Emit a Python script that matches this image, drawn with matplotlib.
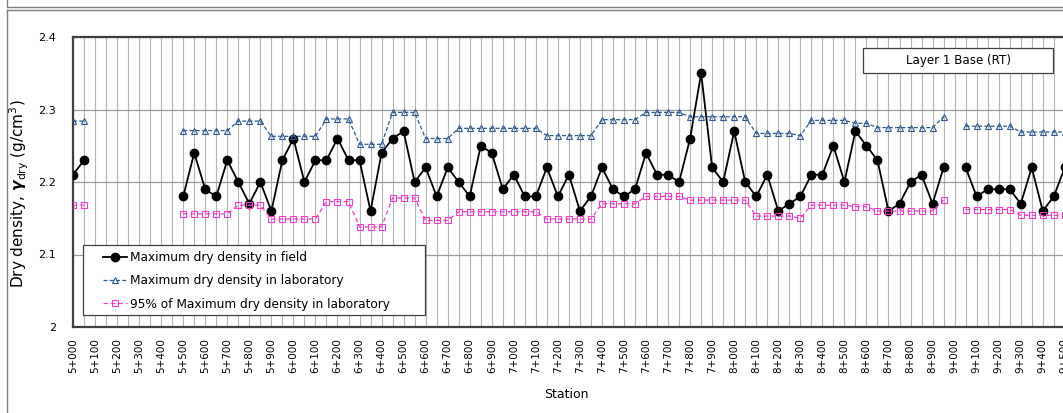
import numpy as np
import matplotlib
matplotlib.use("Agg")
import matplotlib.pyplot as plt
from matplotlib.lines import Line2D
from matplotlib.patches import Rectangle

nan = np.nan

# ---- categories (stations every 50 m) ----
station_m = list(range(5000, 9501, 50))
station_labels = ["%d+%03d" % (s // 1000, s % 1000) for s in station_m]
tick_labels = [lab if i % 2 == 0 else "" for i, lab in enumerate(station_labels)]

# ---- series values (g/cm3) ----
field = [2.21, 2.23, nan, nan, nan, nan, nan, nan, nan, nan,
         2.18, 2.24, 2.19, 2.18, 2.23, 2.20, 2.17, 2.20, 2.16, 2.23,
         2.26, 2.20, 2.23, 2.23, 2.26, 2.23, 2.23, 2.16, 2.24, 2.26,
         2.27, 2.20, 2.22, 2.18, 2.22, 2.20, 2.18, 2.25, 2.24, 2.19,
         2.21, 2.18, 2.18, 2.22, 2.18, 2.21, 2.16, 2.18, 2.22, 2.19,
         2.18, 2.19, 2.24, 2.21, 2.21, 2.20, 2.26, 2.35, 2.22, 2.20,
         2.27, 2.20, 2.18, 2.21, 2.16, 2.17, 2.18, 2.21, 2.21, 2.25,
         2.20, 2.27, 2.25, 2.23, 2.16, 2.17, 2.20, 2.21, 2.17, 2.22,
         nan, 2.22, 2.18, 2.19, 2.19, 2.19, 2.17, 2.22, 2.16, 2.18,
         2.22]

lab = [2.284, 2.284, nan, nan, nan, nan, nan, nan, nan, nan,
       2.271, 2.271, 2.271, 2.271, 2.271, 2.284, 2.284, 2.284, 2.263, 2.263,
       2.263, 2.263, 2.263, 2.287, 2.287, 2.287, 2.252, 2.252, 2.252, 2.296,
       2.296, 2.296, 2.260, 2.260, 2.260, 2.274, 2.274, 2.274, 2.274, 2.274,
       2.274, 2.274, 2.274, 2.264, 2.264, 2.264, 2.264, 2.264, 2.286, 2.286,
       2.286, 2.286, 2.296, 2.296, 2.296, 2.296, 2.290, 2.290, 2.290, 2.290,
       2.290, 2.290, 2.267, 2.267, 2.267, 2.267, 2.264, 2.285, 2.285, 2.285,
       2.285, 2.281, 2.281, 2.275, 2.275, 2.275, 2.275, 2.275, 2.275, 2.290,
       nan, 2.277, 2.277, 2.277, 2.277, 2.277, 2.269, 2.269, 2.269, 2.269,
       2.269]

lab95 = [2.168, 2.168, nan, nan, nan, nan, nan, nan, nan, nan,
         2.156, 2.156, 2.156, 2.156, 2.156, 2.168, 2.168, 2.168, 2.149, 2.149,
         2.149, 2.149, 2.149, 2.173, 2.173, 2.173, 2.138, 2.138, 2.138, 2.178,
         2.178, 2.178, 2.147, 2.147, 2.147, 2.159, 2.159, 2.159, 2.159, 2.159,
         2.159, 2.159, 2.159, 2.149, 2.149, 2.149, 2.149, 2.149, 2.170, 2.170,
         2.170, 2.170, 2.180, 2.180, 2.180, 2.180, 2.175, 2.175, 2.175, 2.175,
         2.175, 2.175, 2.153, 2.153, 2.153, 2.153, 2.150, 2.168, 2.168, 2.168,
         2.168, 2.166, 2.166, 2.160, 2.160, 2.160, 2.160, 2.160, 2.160, 2.175,
         nan, 2.162, 2.162, 2.162, 2.162, 2.162, 2.154, 2.154, 2.154, 2.154,
         2.154]

y_ticks = [2.0, 2.1, 2.2, 2.3, 2.4]
y_tick_labels = ["2", "2.1", "2.2", "2.3", "2.4"]

series_names = ["Maximum dry density in field",
                "Maximum dry density in laboratory",
                "95% of Maximum dry density in laboratory"]

# ---- figure ----
plt.rcParams["font.family"] = ["DejaVu Sans"]
W, H = 1063, 413
fig = plt.figure(figsize=(W / 100, H / 100), dpi=100)

ax_left, ax_top, ax_bottom = 73, 37, 327
px_per_cat = 11.02
n = len(station_m)
xmax = n
ax_w = px_per_cat * xmax
ax = fig.add_axes([ax_left / W, 1 - ax_bottom / H, ax_w / W, (ax_bottom - ax_top) / H])

x = np.arange(n)
blue = "#2f5a96"
pink = "#f03cc8"

l1, = ax.plot(x, field, color="black", lw=1.3, marker="o", ms=6,
              mfc="black", mec="black", zorder=3)
l2, = ax.plot(x, lab, color=blue, lw=0.9, dashes=(3.2, 1.8), marker="^", ms=5,
              mfc="none", mec=blue, mew=0.8, zorder=3)
l3, = ax.plot(x, lab95, color=pink, lw=0.9, dashes=(3.5, 2.5), marker="s", ms=4.6,
              mfc="none", mec=pink, mew=0.8, zorder=3)

ax.set_xlim(0, xmax)
ax.set_ylim(2.0, 2.4)
ax.set_xticks(x)
ax.set_xticklabels(tick_labels, rotation=90, fontsize=7.5)
ax.set_yticks(y_ticks)
ax.set_yticklabels(y_tick_labels, fontsize=8)
ax.tick_params(axis="both", length=0)
ax.tick_params(axis="x", pad=8)
ax.tick_params(axis="y", pad=12)

ax.grid(True, axis="x", color="#b4b4b4", lw=0.8)
ax.grid(True, axis="y", color="#9a9a9a", lw=0.9)
ax.set_axisbelow(True)
for side in ["top", "left", "bottom"]:
    ax.spines[side].set_color("#404040")
    ax.spines[side].set_linewidth(1.6)
ax.spines["right"].set_visible(False)


def fx(px):
    return px / W


def fy(py):
    return 1 - py / H


fig.text(fx(19), fy(194), r"Dry density, $\boldsymbol{\gamma}_{\mathrm{dry}}$ (g/cm$^3$)",
         rotation=90, ha="center", va="center", fontsize=11)
fig.text(fx(566), fy(395), "Station", ha="center", va="center", fontsize=9)

# legend box
rect = Rectangle((fx(83), fy(315)), fx(425) - fx(83), fy(245) - fy(315),
                 transform=fig.transFigure, facecolor="white", edgecolor="#404040",
                 lw=0.9, zorder=4, clip_on=False)
ax.add_patch(rect)
leg = ax.legend([l1, l2, l3], series_names, loc="upper left",
                bbox_to_anchor=(fx(103), fy(251)), bbox_transform=fig.transFigure,
                frameon=False, fontsize=8.7, borderpad=0, borderaxespad=0,
                handlelength=1.95, handletextpad=0.25, labelspacing=0.85)
leg.set_zorder(5)

# label box "Layer 1 Base (RT)"
rect2 = Rectangle((fx(863), fy(73)), fx(1053) - fx(863), fy(48) - fy(73),
                  transform=fig.transFigure, facecolor="white", edgecolor="#404040",
                  lw=0.9, zorder=4, clip_on=False)
ax.add_patch(rect2)
fig.text(fx(958), fy(60.5), "Layer 1 Base (RT)", ha="center", va="center",
         fontsize=8.6, zorder=6)

# outer frames
frame_c = "#808080"
fig.add_artist(Line2D([fx(7), fx(1063)], [fy(7), fy(7)], color=frame_c, lw=1.0))
fig.add_artist(Line2D([fx(7), fx(7)], [fy(0), fy(7)], color=frame_c, lw=1.0))
fig.add_artist(Line2D([fx(7), fx(1063)], [fy(9.5), fy(9.5)], color=frame_c, lw=1.0))
fig.add_artist(Line2D([fx(7), fx(7)], [fy(9.5), fy(413)], color=frame_c, lw=1.0))

fig.savefig("out.png", dpi=100)
